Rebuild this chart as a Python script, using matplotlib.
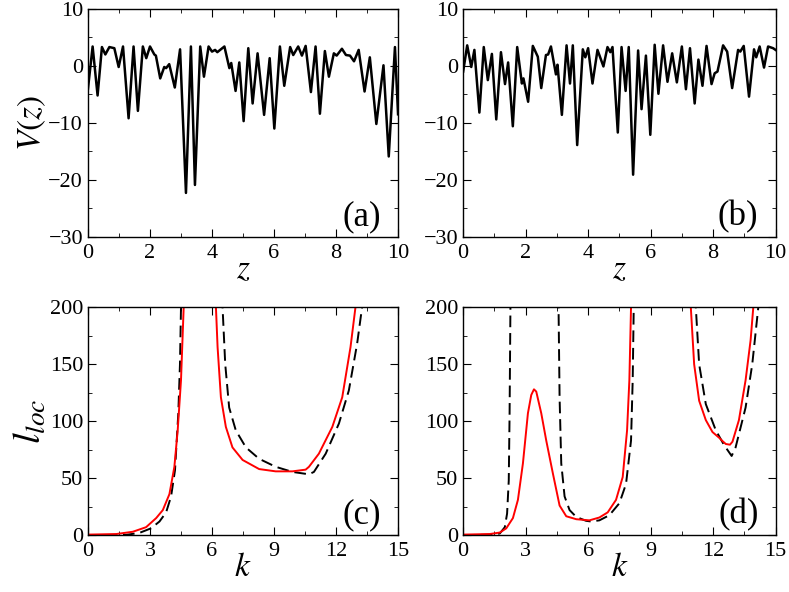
import numpy as np
import matplotlib
matplotlib.use('Agg')
import matplotlib.pyplot as plt
from matplotlib.ticker import MultipleLocator

plt.rcParams['font.family'] = 'Liberation Serif'
plt.rcParams['mathtext.fontset'] = 'stix'

nan = np.nan

# ---- panel (a): potential V(z), extrema
z_a = [0.0, 0.15, 0.31, 0.45, 0.56, 0.69, 0.85, 0.99, 1.13, 1.31, 1.47, 1.61, 1.77,
       1.88, 2.0, 2.14, 2.19, 2.33, 2.46, 2.52, 2.62, 2.80, 2.97, 3.16, 3.32, 3.45,
       3.62, 3.74, 3.89, 4.0, 4.1, 4.17, 4.40, 4.56, 4.62, 4.76, 4.88, 5.02, 5.17,
       5.31, 5.47, 5.68, 5.86, 6.01, 6.19, 6.33, 6.52, 6.62, 6.78, 6.90, 7.02, 7.19,
       7.34, 7.48, 7.64, 7.77, 7.93, 8.02, 8.19, 8.32, 8.45, 8.58, 8.73, 8.92, 9.09,
       9.30, 9.53, 9.70, 9.90, 10.0]
V_a = [-4.0, 3.4, -5.2, 3.3, 2.0, 3.3, 3.1, -0.2, 3.4, -9.2, 3.4, -7.9, 3.4,
       1.35, 3.4, 2.0, 1.8, -2.2, -0.2, -0.4, 0.3, -3.8, 2.9, -22.3, 3.4, -20.9,
       3.4, -1.9, 3.4, 2.5, 2.8, 2.4, 3.4, -0.4, 0.5, -4.4, 0.6, -9.7, 3.1,
       -6.6, 2.2, -8.6, 1.35, -11.0, 3.4, -3.5, 3.3, 1.9, 3.4, 1.8, 3.5, -4.6,
       3.4, -8.4, 2.6, -1.9, 2.2, 1.8, 3.0, 1.9, 1.8, 0.8, 2.8, -4.5, 1.5,
       -10.2, 0.1, -15.9, 3.3, -8.5]

# ---- panel (b)
z_b = [0.0, 0.13, 0.26, 0.36, 0.52, 0.66, 0.79, 0.92, 1.06, 1.21, 1.34, 1.44, 1.59,
       1.73, 1.88, 1.93, 2.08, 2.23, 2.39, 2.50, 2.65, 2.72, 2.81, 2.97, 3.02, 3.16,
       3.31, 3.42, 3.51, 3.65, 3.83, 3.91, 4.00, 4.14, 4.30, 4.49, 4.62, 4.71, 4.78,
       4.95, 5.07, 5.20, 5.30, 5.44, 5.60, 5.71, 5.85, 5.99, 6.13, 6.25, 6.40, 6.54,
       6.69, 6.84, 7.00, 7.13, 7.26, 7.41, 7.53, 7.66, 7.79, 7.95, 8.05, 8.14, 8.32,
       8.45, 8.61, 8.80, 8.87, 8.98, 9.15, 9.31, 9.38, 9.49, 9.63, 9.76, 9.92, 10.0]
V_b = [-1.0, 3.6, -0.2, 2.8, -8.2, 3.3, -2.5, 2.1, -9.4, 2.4, -3.2, 0.6, -10.6,
       3.3, -3.1, -2.2, -6.3, 3.5, 1.6, -3.9, 1.9, 2.0, 3.4, -1.5, 0.2, -8.6,
       3.6, -3.1, 3.6, -13.9, 2.9, 1.5, 3.1, -3.1, 2.8, -0.1, 3.3, 2.4, 3.3,
       -11.7, 3.3, -4.4, 3.3, -19.1, 2.7, -7.6, 1.8, -12.1, 3.7, -4.9, 3.6, -2.8,
       2.2, -2.9, 3.4, -4.1, 3.1, -6.6, 1.1, -3.5, 3.5, -3.2, -1.3, -1.0, 3.6,
       2.5, -3.9, 2.8, 2.5, 3.5, -5.4, 2.9, 1.5, 3.4, -0.3, 3.4, 3.1, 2.8]

# ---- panel (c): localization length, nan separates branches
k_c_red = [0.0, 1.37, 2.17, 2.81, 3.3, 3.62, 3.94, 4.18, 4.34, 4.50, 4.63, 4.70, nan,
           6.15, 6.19, 6.27, 6.43, 6.67, 6.99, 7.48, 8.28, 9.08, 9.89, 10.53, 10.69,
           11.17, 11.82, 12.3, 12.7, 12.94, 13.05]
l_c_red = [0.5, 1.0, 3.0, 7.0, 15.0, 22.0, 36.0, 60.0, 92.0, 136.0, 200.0, 240.0, nan,
           240.0, 200.0, 165.0, 121.0, 95.0, 77.0, 66.0, 58.0, 56.0, 56.0, 57.5, 60.0,
           71.5, 95.0, 121.0, 165.0, 200.0, 220.0]
k_c_blk = [0.0, 1.85, 2.49, 3.05, 3.46, 3.78, 4.02, 4.21, 4.37, 4.45, 4.50, 4.53, nan,
           6.49, 6.51, 6.64, 6.83, 7.15, 7.64, 8.28, 9.08, 9.89, 10.69, 10.93, 11.5,
           12.14, 12.62, 13.02, 13.26, 13.35]
l_c_blk = [0.0, 0.3, 2.0, 6.0, 12.0, 20.0, 34.0, 57.0, 107.0, 150.0, 200.0, 240.0, nan,
           240.0, 200.0, 150.0, 112.0, 92.0, 77.0, 67.0, 60.0, 55.5, 53.4, 55.5, 71.5,
           98.0, 127.0, 168.0, 200.0, 220.0]

# ---- panel (d)
k_d_red = [0.0, 1.28, 1.76, 2.07, 2.39, 2.63, 2.87, 3.11, 3.27, 3.40, 3.51, 3.75, 3.99,
           4.31, 4.63, 4.95, 5.43, 6.06, 6.54, 6.94, 7.34, 7.66, 7.87, 7.98, 8.06, 8.10,
           nan, 10.88, 10.93, 11.09, 11.33, 11.65, 11.97, 12.29, 12.45, 12.61, 12.81,
           12.93, 13.24, 13.56, 13.80, 13.93, 14.0]
l_d_red = [0.5, 1.0, 2.3, 6.0, 15.0, 31.0, 63.0, 107.0, 123.0, 128.0, 126.0, 107.0, 83.0,
           54.0, 26.0, 16.6, 14.0, 13.0, 15.5, 20.0, 31.0, 51.0, 92.0, 136.0, 200.0, 240.0,
           nan, 240.0, 200.0, 150.0, 118.0, 101.0, 90.5, 85.5, 82.6, 80.0, 79.4,
           82.0, 101.0, 136.0, 171.0, 200.0, 220.0]
k_d_blk = [0.0, 1.44, 1.76, 2.0, 2.11, 2.19, 2.23, 2.27, 2.29, nan,
           4.57, 4.58, 4.63, 4.71, 4.87, 5.11, 5.43, 5.90, 6.14, 6.54, 7.02, 7.50, 7.82,
           8.06, 8.14, 8.19, 8.21, nan,
           11.12, 11.17, 11.33, 11.65, 12.13, 12.53, 12.89, 13.08, 13.56, 13.88, 14.17, 14.25]
l_d_blk = [0.0, 0.5, 1.5, 7.0, 19.0, 48.0, 107.0, 200.0, 240.0, nan,
           240.0, 200.0, 121.0, 63.0, 34.0, 22.0, 16.0, 12.6, 12.0, 13.0, 17.5, 28.0, 45.0,
           83.0, 136.0, 200.0, 240.0, nan,
           240.0, 200.0, 150.0, 115.0, 92.0, 79.0, 69.5, 77.0, 112.0, 150.0, 200.0, 220.0]


def _style(ax):
    ax.tick_params(which='both', direction='in', top=True, right=True, labelsize=16)
    ax.tick_params(axis='x', which='both', pad=5)
    ax.tick_params(which='major', length=6)
    ax.tick_params(which='minor', length=3)
    for s in ax.spines.values():
        s.set_linewidth(1.0)


def _tag(ax, text):
    ax.text(0.945, 0.015, text, transform=ax.transAxes, ha='right', va='bottom', fontsize=25)


fig = plt.figure(figsize=(7.89, 5.92), dpi=100)
ax_a = fig.add_axes([0.1115, 0.600, 0.393, 0.385])
ax_b = fig.add_axes([0.587, 0.600, 0.396, 0.385])
ax_c = fig.add_axes([0.1115, 0.096, 0.393, 0.385])
ax_d = fig.add_axes([0.587, 0.096, 0.396, 0.385])

for ax, z, V, tag in [(ax_a, z_a, V_a, '(a)'), (ax_b, z_b, V_b, '(b)')]:
    ax.plot(z, V, color='black', linewidth=1.8, solid_joinstyle='round')
    ax.set_xlim(0, 10)
    ax.set_ylim(-30, 10)
    ax.xaxis.set_major_locator(MultipleLocator(2))
    ax.xaxis.set_minor_locator(MultipleLocator(1))
    ax.yaxis.set_major_locator(MultipleLocator(10))
    ax.yaxis.set_minor_locator(MultipleLocator(5))
    ax.set_xlabel(r'$z$', fontsize=24, labelpad=-6)
    _style(ax)
    _tag(ax, tag)
ax_a.set_ylabel(r'$V(z)$', fontsize=24, labelpad=0)

for ax, kr, lr, kb, lb, tag in [(ax_c, k_c_red, l_c_red, k_c_blk, l_c_blk, '(c)'),
                                (ax_d, k_d_red, l_d_red, k_d_blk, l_d_blk, '(d)')]:
    ax.plot(kb, lb, color='black', linewidth=1.4, dashes=(6, 3))
    ax.plot(kr, lr, color='#ff0000', linewidth=1.4)
    ax.set_xlim(0, 15)
    ax.set_ylim(0, 200)
    ax.xaxis.set_major_locator(MultipleLocator(3))
    ax.xaxis.set_minor_locator(MultipleLocator(1.5))
    ax.yaxis.set_major_locator(MultipleLocator(50))
    ax.yaxis.set_minor_locator(MultipleLocator(25))
    ax.set_xlabel(r'$k$', fontsize=24, labelpad=-6)
    _style(ax)
    _tag(ax, tag)
ax_c.set_ylabel(r'$l_{loc}$', fontsize=28, labelpad=0)

fig.savefig('out.png', dpi=100)
